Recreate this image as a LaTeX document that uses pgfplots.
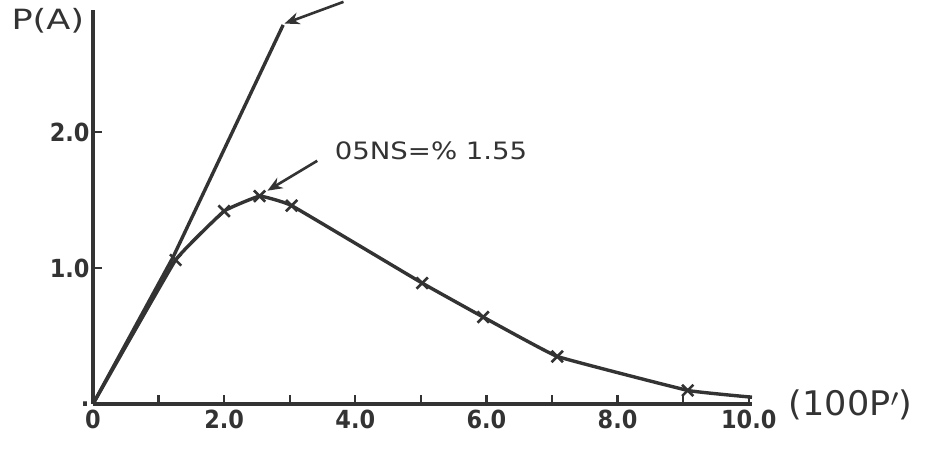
\documentclass[border=0pt]{standalone}
\usepackage{pgfplots}
\pgfplotsset{compat=1.18}
\usepackage{fontspec}
\setmainfont{DejaVu Sans Condensed}
\usetikzlibrary{arrows.meta}
\definecolor{ink}{HTML}{333333}

\begin{document}
\begin{tikzpicture}
  \begin{axis}[
    scale only axis,
    width=659bp, height=394bp,
    xmin=0, xmax=10.05,
    ymin=0, ymax=2.9,
    axis lines=left,
    axis line style={-, ink, line width=3.2bp},
    xtick={0,1,...,10},
    xticklabels={0,,2.0,,4.0,,6.0,,8.0,,10.0},
    ytick={0,1,2},
    yticklabels={.,1.0,2.0},
    tick align=inside,
    major tick length=9bp,
    tick style={ink, line width=2.4bp},
    ticklabel style={font=\bfseries\fontsize{25}{25}\selectfont, text=ink},
    xticklabel style={yshift=-2bp},
    /pgf/number format/assume math mode=true,
    clip=false,
    ]
    % upper curve
    \addplot[ink, line width=3.4bp, no marks]
    coordinates {
      (0,0)(1.22,1.08)(2.9,2.79)
    };
    % lower curve with measured points
    \addplot[ink, line width=3.4bp, smooth, tension=0.15,
      mark=x, mark size=8bp, mark options={line width=2.6bp},
      mark indices={2,...,9}]
    coordinates {
      (0,0)(1.26,1.06)(2.0,1.42)(2.54,1.53)(3.03,1.46)(5.02,0.89)
      (5.95,0.64)(7.08,0.35)(9.07,0.10)(10.05,0.05)
    };

    \draw[-{Stealth[length=15bp,width=12bp]}, ink, line width=2.6bp]
      (axis cs:3.82,2.96) -- (axis cs:2.92,2.80);
    \draw[-{Stealth[length=15bp,width=12bp]}, ink, line width=2.6bp]
      (axis cs:3.42,1.79) -- (axis cs:2.66,1.57);
    \node[anchor=west, text=ink, font=\fontsize{24}{24}\selectfont, xscale=1.28]
      at (axis cs:3.62,1.86) {05NS=\% 1.55};
    \node[anchor=west, text=ink, font=\fontsize{34}{34}\selectfont, xscale=1.15]
      at (axis cs:10.55,-0.01) {(100P$'$)};
    \node[anchor=east, text=ink, font=\fontsize{28}{28}\selectfont, xscale=1.4]
      at (axis cs:-0.06,2.82) {P(A)};
  \end{axis}
  \pgfresetboundingbox
  \path (-93bp,-45bp) rectangle (834bp,404bp);
\end{tikzpicture}
\end{document}
